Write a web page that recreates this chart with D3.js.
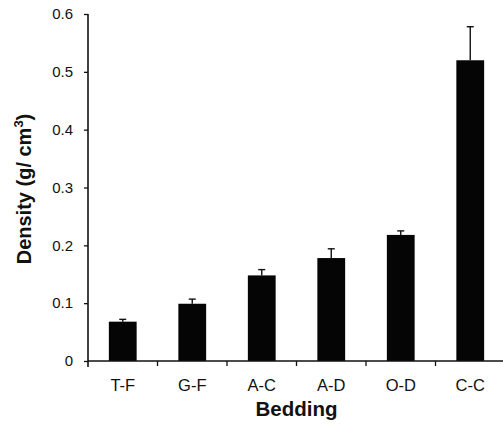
<!DOCTYPE html>
<html><head><meta charset="utf-8">
<script src="https://cdn.jsdelivr.net/npm/d3@7"></script>
<style>body{margin:0;background:#fff}svg{display:block}</style>
</head><body>
<script>
const categories = ["T-F","G-F","A-C","A-D","O-D","C-C"];
const values = [0.068,0.099,0.148,0.178,0.218,0.52];
const errors = [0.004,0.008,0.010,0.016,0.007,0.058];
const yTicks = [0,0.1,0.2,0.3,0.4,0.5,0.6];
const yTickLabels = ["0","0.1","0.2","0.3","0.4","0.5","0.6"];

const W=503,H=426;
const svg=d3.select("body").append("svg").attr("width",W).attr("height",H);
const font="Liberation Sans, Arial, sans-serif";
const x=d3.scaleBand().domain(categories).range([88,505]).paddingInner(0.6).paddingOuter(0.3);
const step=x.step();
const y=d3.scaleLinear().domain([0,0.6]).range([361,14]);

// bars
svg.selectAll("rect.bar").data(categories).enter().append("rect")
 .attr("x",d=>x(d)).attr("width",x.bandwidth())
 .attr("y",(d,i)=>y(values[i])).attr("height",(d,i)=>y(0)-y(values[i]))
 .attr("fill","#050505");
// error bars (upper only)
const eb=svg.selectAll("g.err").data(categories).enter().append("g");
eb.append("line").attr("x1",d=>x(d)+x.bandwidth()/2).attr("x2",d=>x(d)+x.bandwidth()/2)
 .attr("y1",(d,i)=>y(values[i])).attr("y2",(d,i)=>y(values[i]+errors[i]))
 .attr("stroke","#111").attr("stroke-width",1.4);
eb.append("line").attr("x1",d=>x(d)+x.bandwidth()/2-3.5).attr("x2",d=>x(d)+x.bandwidth()/2+3.5)
 .attr("y1",(d,i)=>y(values[i]+errors[i])).attr("y2",(d,i)=>y(values[i]+errors[i]))
 .attr("stroke","#111").attr("stroke-width",1.4);

// y axis
const ya=svg.append("g").attr("transform","translate(88,0)")
 .call(d3.axisLeft(y).tickValues(yTicks).tickFormat((d,i)=>yTickLabels[i]).tickSize(4).tickPadding(11));
ya.select(".domain").attr("d","M0,14V367").attr("stroke","#111").attr("stroke-width",1.6);
ya.selectAll(".tick line").attr("stroke","#111").attr("stroke-width",1.3);
ya.selectAll(".tick text").attr("font-family",font).attr("font-size",15).attr("fill","#111");

// x axis
const xa=svg.append("g").attr("transform","translate(0,361)")
 .call(d3.axisBottom(x).tickSize(0).tickPadding(18));
xa.select(".domain").attr("d","M88,0H505").attr("stroke","#111").attr("stroke-width",1.6);
xa.selectAll(".tick text").attr("font-family",font).attr("font-size",16.5).attr("fill","#111");
// boundary ticks
const bounds=categories.slice(1).map(c=>x(c)-(step-x.bandwidth())/2);
xa.selectAll("line.bt").data(bounds).enter().append("line")
 .attr("x1",d=>d).attr("x2",d=>d).attr("y1",0).attr("y2",5)
 .attr("stroke","#111").attr("stroke-width",1.3);

// axis titles
svg.append("text").attr("x",296.5).attr("y",416).attr("text-anchor","middle")
 .attr("font-family",font).attr("font-weight","bold").attr("font-size",20.5).attr("fill","#111").text("Bedding");
const yt=svg.append("text").attr("transform","translate(31,189) rotate(-90)").attr("text-anchor","middle")
 .attr("font-family",font).attr("font-weight","bold").attr("font-size",20).attr("fill","#111");
yt.append("tspan").text("Density (g/ cm");
yt.append("tspan").attr("dy",-8).attr("font-size",13).text("3");
yt.append("tspan").attr("dy",8).text(")");
</script>
</body></html>
